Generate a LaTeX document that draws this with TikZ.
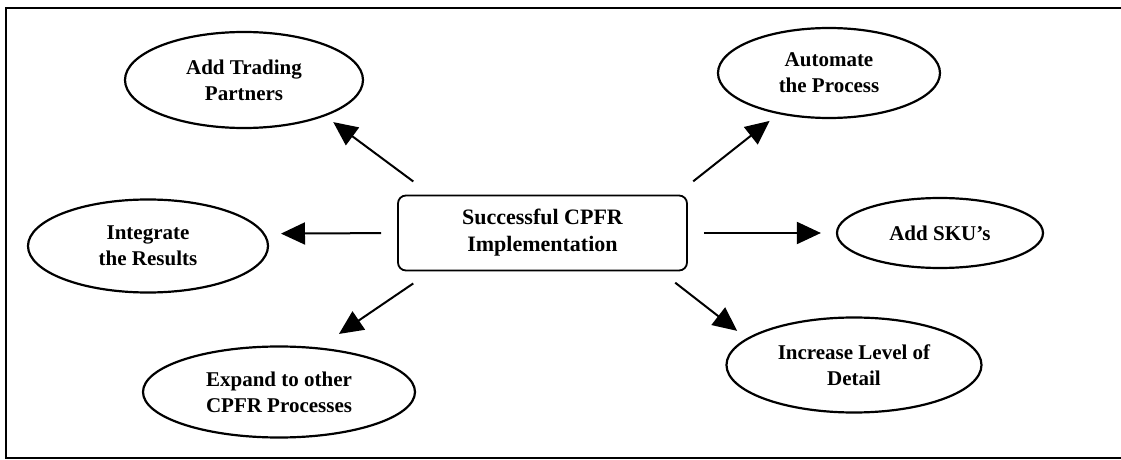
\documentclass[tikz,border=0pt]{standalone}
\usepackage{fontspec}
\setmainfont{Liberation Serif}
\usetikzlibrary{arrows.meta,shapes.geometric}

\begin{document}
\begin{tikzpicture}[x=0.5pt, y=-0.5pt,
  font=\bfseries\fontsize{10.5}{13}\selectfont,
  goal/.style={draw, ellipse, line width=1.1pt, inner sep=0pt, align=center},
  hub/.style={draw, rounded corners=4pt, line width=0.9pt, inner sep=0pt,
    align=center, minimum width=144.5pt, minimum height=37.5pt,
    font=\bfseries\fontsize{11}{13.5}\selectfont},
  link/.style={-{Triangle[length=12pt,width=11pt]}, line width=1pt}]
  \useasboundingbox (0,0) rectangle (1121,460);
  % frame
  \draw[line width=0.9pt] (1121,8) -- (6,8) -- (6,458) -- (1121,458);

  \node[hub] (impl) at (542.5,233) {Successful CPFR\\Implementation};
  \node[goal, minimum width=119pt, minimum height=48pt] (partners) at (244,80) {Add Trading\\Partners};
  \node[goal, minimum width=111pt, minimum height=45pt] (automate) at (829,73) {Automate\\the Process};
  \node[goal, minimum width=120pt, minimum height=46.5pt] (integrate) at (148,246) {Integrate\\the Results};
  \node[goal, minimum width=103pt, minimum height=35pt] (sku) at (940,233) {Add SKU's};
  \node[goal, minimum width=136pt, minimum height=45.5pt] (expand) at (279,392) {Expand to other\\CPFR Processes};
  \node[goal, minimum width=127.5pt, minimum height=47.5pt] (detail) at (854,365) {Increase Level of\\Detail};

  % arrows out of the hub
  \draw[link, shorten <=11pt, shorten >=5pt] (impl.161) -- (partners.-24);
  \draw[link, shorten <=10.7pt, shorten >=5.5pt] (impl.16) -- (automate.-141);
  \draw[link, shorten <=8pt, shorten >=8pt] (impl.west) -- (integrate.6);
  \draw[link, shorten <=8pt, shorten >=7.5pt] (impl.east) -- (sku.west);
  \draw[link, shorten <=10.7pt, shorten >=12pt] (impl.-161) -- (expand.48);
  \draw[link, shorten <=9.2pt, shorten >=6pt] (impl.-18) -- (detail.166);
\end{tikzpicture}
\end{document}
